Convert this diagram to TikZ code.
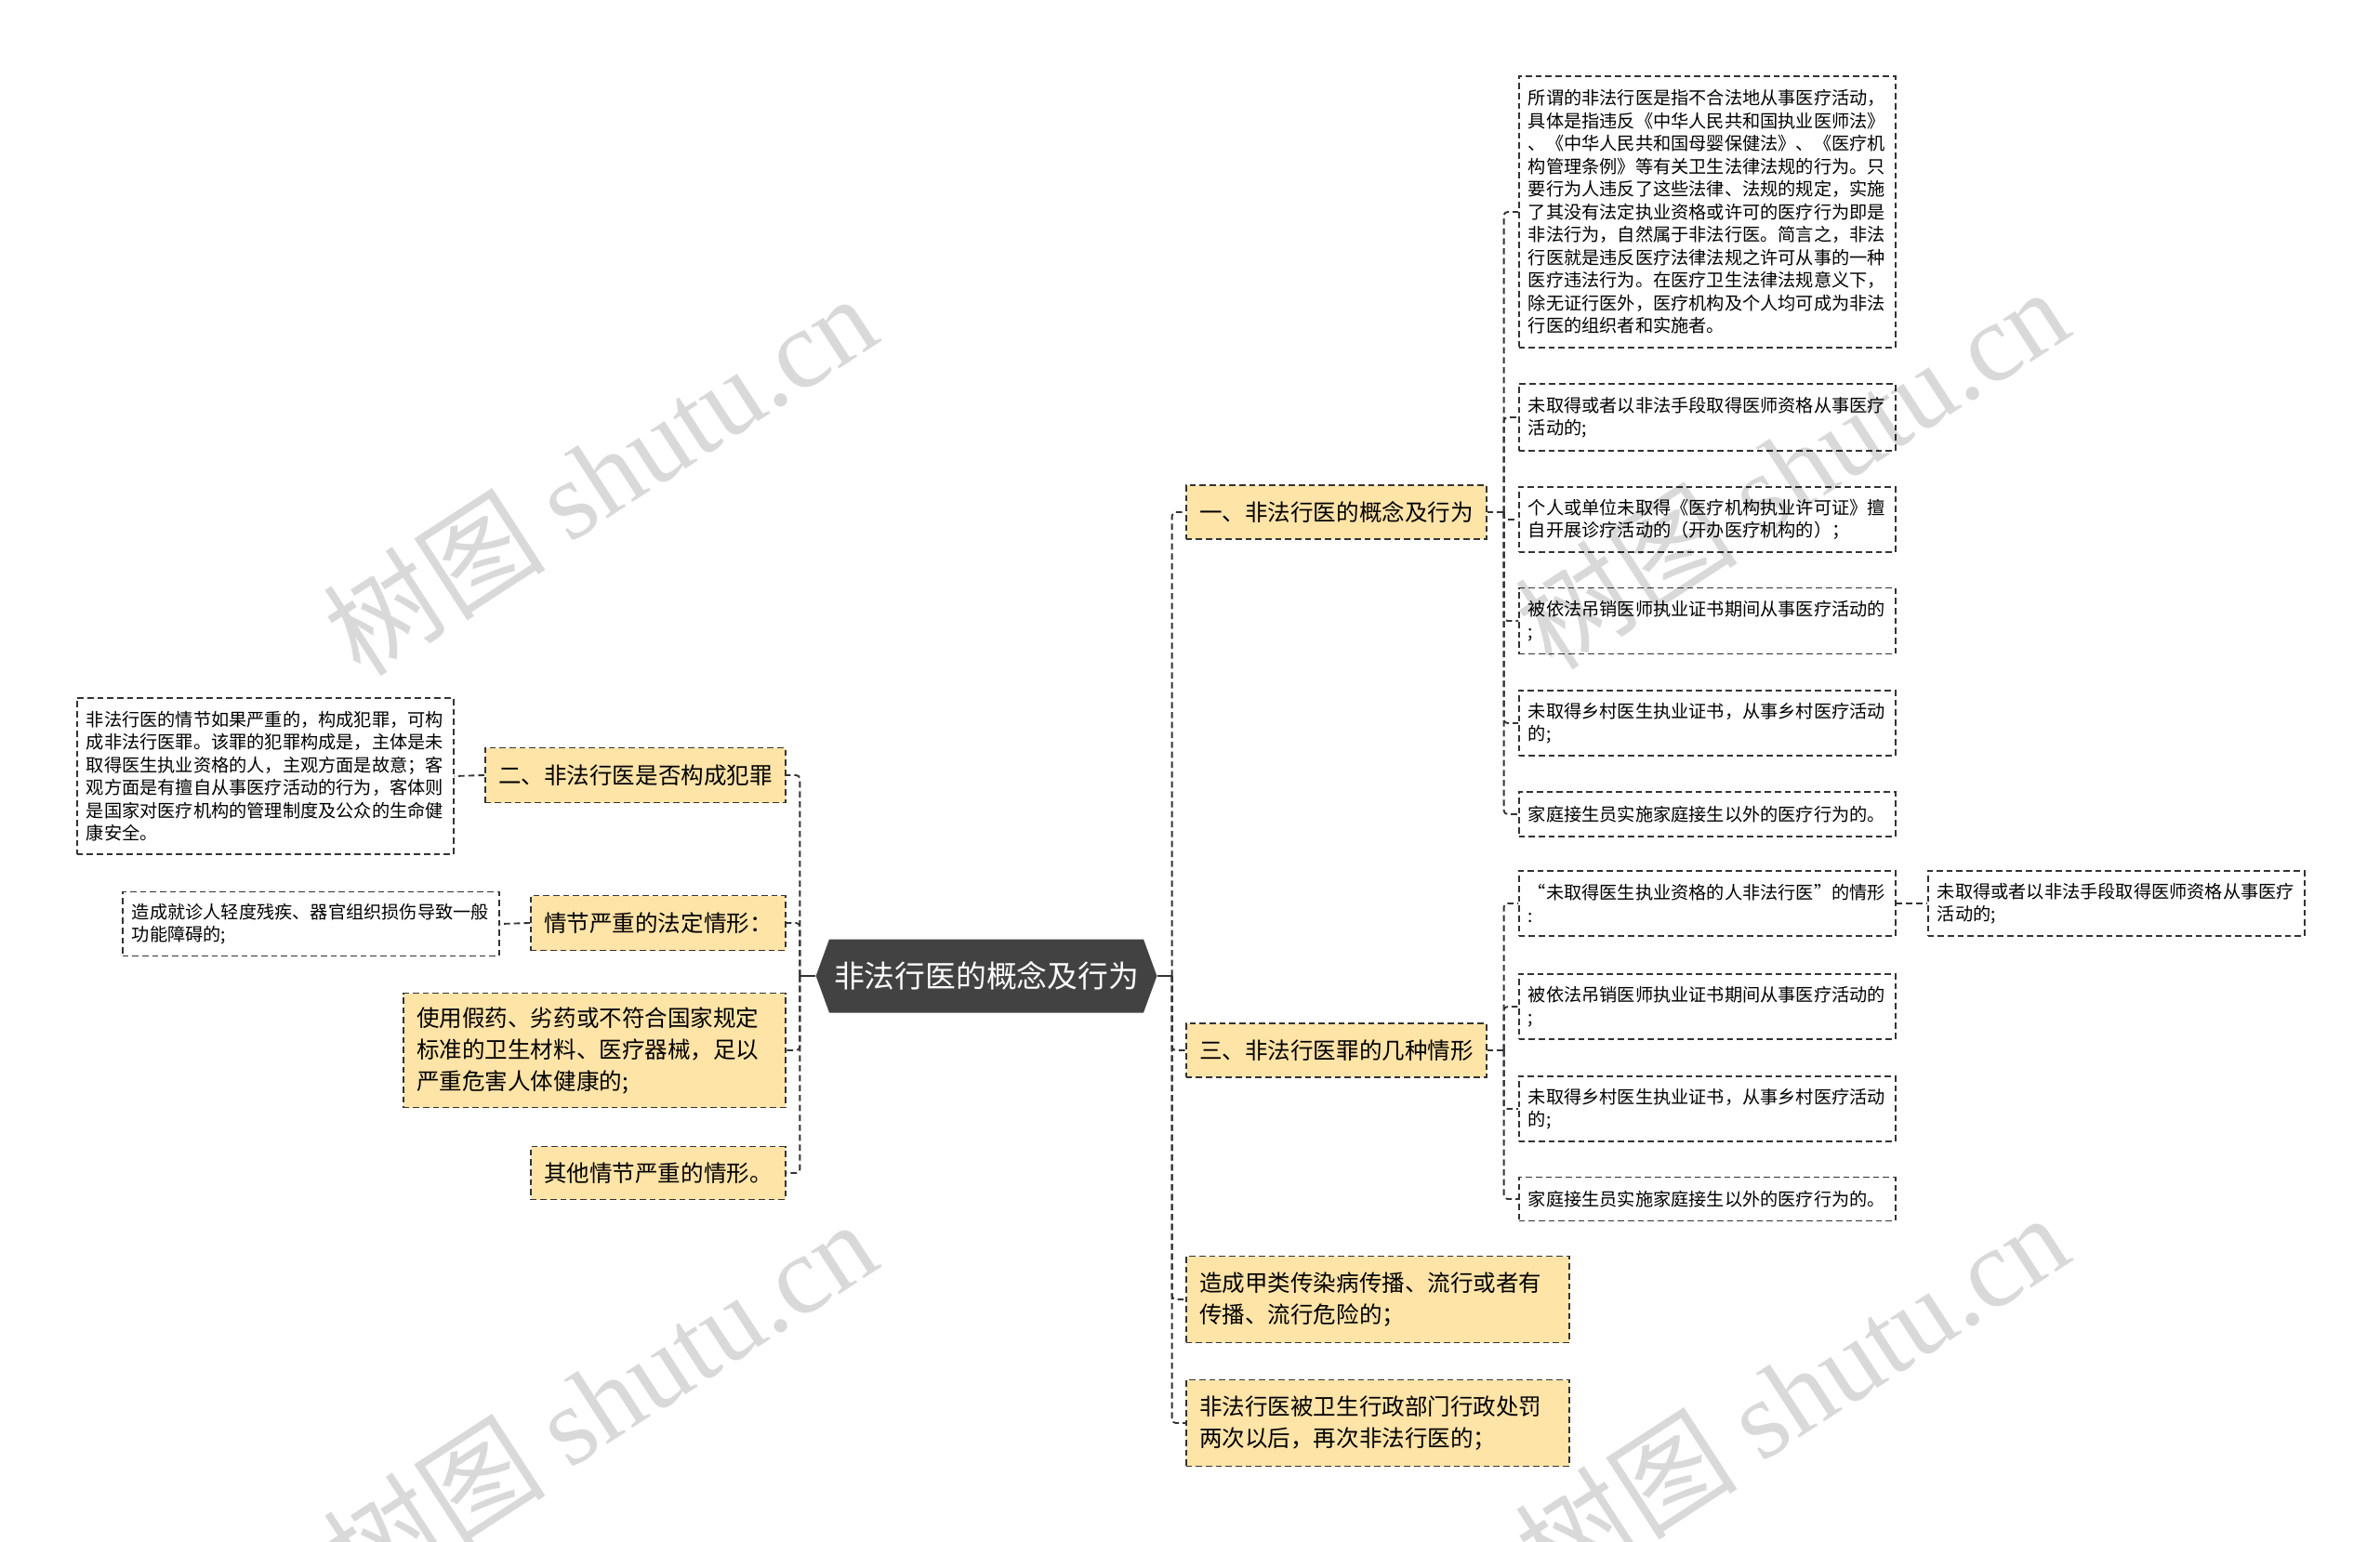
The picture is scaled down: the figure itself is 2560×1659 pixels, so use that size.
\documentclass[tikz,border=0pt]{standalone}
\usepackage{fontspec}
\setmainfont{Noto Sans CJK SC}
\newfontfamily\wmfont{Liberation Serif}
\usetikzlibrary{shapes.symbols}
\definecolor{topicfill}{HTML}{FFE4A8}
\definecolor{linegray}{HTML}{333333}
\definecolor{rootgray}{HTML}{424242}
\newdimen\pxu \pxu=0.75pt

\begin{document}
\begin{tikzpicture}[x=0.75pt, y=-0.75pt,
    link/.style={draw=linegray, line width=1.4pt, dash pattern=on 5pt off 3pt, rounded corners=3pt},
    stem/.style={draw=linegray, line width=1.5pt},
    root/.style={signal, signal to=west and east, signal pointer angle=140, fill=rootgray, text=white,
        font=\fontsize{24.6}{30}\selectfont, minimum height=79\pxu, inner xsep=5\pxu, inner ysep=0pt},
    topic/.style={draw=linegray, line width=1.2pt, dash pattern=on 5pt off 3pt, fill=topicfill,
        inner xsep=14.5\pxu, inner ysep=0pt, align=left, font=\fontsize{18.4}{25.5}\selectfont, anchor=west},
    leaf/.style={draw=linegray, line width=1.2pt, dash pattern=on 5pt off 3pt, fill=white,
        inner xsep=10\pxu, inner ysep=0pt, minimum width=405\pxu, text width=385\pxu, align=left,
        font=\fontsize{14.4}{18.4}\selectfont, anchor=west},
    wm/.style={text=black, opacity=0.15, rotate=33, font=\fontsize{90}{90}\selectfont}]
    \useasboundingbox[fill=white] (0,0) rectangle (2560,1659);

    % Root
    \node[root] (root) at (1061,1050) {非法行医的概念及行为};

    % Right topics
    \node[topic, minimum width=323\pxu, text width=294\pxu, minimum height=58\pxu] (A) at (1275,551) {一、非法行医的概念及行为};
    \node[topic, minimum width=323\pxu, text width=294\pxu, minimum height=58\pxu] (B) at (1275,1130) {三、非法行医罪的几种情形};
    \node[topic, minimum width=412\pxu, text width=383\pxu, minimum height=93\pxu] (C) at (1275,1398) {造成甲类传染病传播、流行或者有\\传播、流行危险的；};
    \node[topic, minimum width=412\pxu, text width=383\pxu, minimum height=93\pxu] (D) at (1275,1531) {非法行医被卫生行政部门行政处罚\\两次以后，再次非法行医的；};

    % Leaves of A
    \node[leaf, minimum height=292\pxu] (A1) at (1633,228) {所谓的非法行医是指不合法地从事医疗活动，\\具体是指违反《中华人民共和国执业医师法》\\、《中华人民共和国母婴保健法》、《医疗机\\构管理条例》等有关卫生法律法规的行为。只\\要行为人违反了这些法律、法规的规定，实施\\了其没有法定执业资格或许可的医疗行为即是\\非法行为，自然属于非法行医。简言之，非法\\行医就是违反医疗法律法规之许可从事的一种\\医疗违法行为。在医疗卫生法律法规意义下，\\除无证行医外，医疗机构及个人均可成为非法\\行医的组织者和实施者。};
    \node[leaf, minimum height=72\pxu] (A2) at (1633,449) {未取得或者以非法手段取得医师资格从事医疗\\活动的;};
    \node[leaf, minimum height=70\pxu] (A3) at (1633,559) {个人或单位未取得《医疗机构执业许可证》擅\\自开展诊疗活动的（开办医疗机构的）；};
    \node[leaf, minimum height=71\pxu] (A4) at (1633,668) {被依法吊销医师执业证书期间从事医疗活动的\\;};
    \node[leaf, minimum height=70\pxu] (A5) at (1633,778) {未取得乡村医生执业证书，从事乡村医疗活动\\的;};
    \node[leaf, minimum height=48\pxu] (A6) at (1633,876) {家庭接生员实施家庭接生以外的医疗行为的。};

    % Leaves of B
    \node[leaf, minimum height=70\pxu] (B1) at (1633,972) {“未取得医生执业资格的人非法行医”的情形\\:};
    \node[leaf, minimum height=70\pxu] (B1a) at (2073,972) {未取得或者以非法手段取得医师资格从事医疗\\活动的;};
    \node[leaf, minimum height=70\pxu] (B2) at (1633,1083) {被依法吊销医师执业证书期间从事医疗活动的\\;};
    \node[leaf, minimum height=70\pxu] (B3) at (1633,1193) {未取得乡村医生执业证书，从事乡村医疗活动\\的;};
    \node[leaf, minimum height=47\pxu] (B4) at (1633,1290) {家庭接生员实施家庭接生以外的医疗行为的。};

    % Left topics
    \node[topic, minimum width=323\pxu, text width=294\pxu, minimum height=59\pxu] (L1) at (521,834) {二、非法行医是否构成犯罪};
    \node[topic, minimum width=274\pxu, text width=245\pxu, minimum height=59\pxu] (L2) at (570,993) {情节严重的法定情形：};
    \node[topic, minimum width=411\pxu, text width=382\pxu, minimum height=123\pxu] (L3) at (433,1130) {使用假药、劣药或不符合国家规定\\标准的卫生材料、医疗器械，足以\\严重危害人体健康的;};
    \node[topic, minimum width=274\pxu, text width=245\pxu, minimum height=57\pxu] (L4) at (570,1262) {其他情节严重的情形。};

    % Leaves on the left
    \node[leaf, minimum height=168\pxu] (L1a) at (82,835) {非法行医的情节如果严重的，构成犯罪，可构\\成非法行医罪。该罪的犯罪构成是，主体是未\\取得医生执业资格的人，主观方面是故意；客\\观方面是有擅自从事医疗活动的行为，客体则\\是国家对医疗机构的管理制度及公众的生命健\\康安全。};
    \node[leaf, minimum height=69\pxu] (L2a) at (131,994) {造成就诊人轻度残疾、器官组织损伤导致一般\\功能障碍的;};

    % Connectors
    \draw[stem] (root.east) -- ++(16,0) coordinate (R);
    \foreach \n in {A,B,C,D} \draw[link] (R) |- (\n.west);
    \draw[stem] (root.west) -- ++(-17,0) coordinate (L);
    \foreach \n in {L1,L2,L3,L4} \draw[link] (L) |- (\n.east);

    \draw[link] (A.east) -- ++(18,0) coordinate (Ar);
    \foreach \n in {A1,A2,A3,A4,A5,A6} \draw[link] (Ar) |- (\n.west);
    \draw[link] (B.east) -- ++(18,0) coordinate (Br);
    \foreach \n in {B1,B2,B3,B4} \draw[link] (Br) |- (\n.west);
    \draw[link] (B1.east) -- (B1a.west);
    \draw[link] (L1.west) -- (L1a.east);
    \draw[link] (L2.west) -- (L2a.east);

    % Watermarks
    \node[wm] (wm1) at (645,510) {树图 {\wmfont shutu.cn}};
    \node[wm] (wm2) at (1927,503) {树图 {\wmfont shutu.cn}};
    \node[wm] (wm3) at (645,1506) {树图 {\wmfont shutu.cn}};
    \node[wm] (wm4) at (1927,1499) {树图 {\wmfont shutu.cn}};
\end{tikzpicture}
\end{document}
